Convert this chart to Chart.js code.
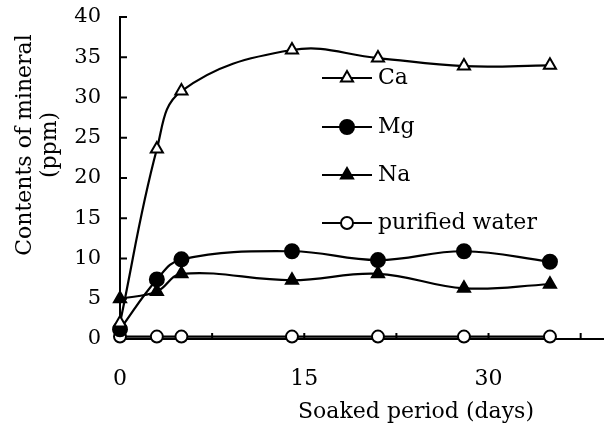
<!DOCTYPE html>
<html>
<head>
<meta charset="utf-8">
<script src="https://cdn.jsdelivr.net/npm/chart.js@4/dist/chart.umd.min.js"></script>
<style>
html,body{margin:0;padding:0;background:#fff;}
#wrap{width:604px;height:436px;position:relative;}
</style>
</head>
<body>
<div id="wrap"><canvas id="c" width="604" height="436"></canvas></div>
<script>
const days = [0, 3, 5, 14, 21, 28, 35];
const ca = [2.0, 23.6, 30.8, 35.9, 34.9, 33.9, 34.0];
const mg = [1.2, 7.4, 9.9, 10.9, 9.8, 10.9, 9.6];
const na = [5.0, 5.9, 8.1, 7.3, 8.1, 6.3, 6.8];
const water = [0.3, 0.3, 0.3, 0.3, 0.3, 0.3, 0.3];
const seriesNames = ['Ca', 'Mg', 'Na', 'purified water'];
const xTickValues = [0, 7.5, 15, 22.5, 30, 37.5];
const xLabelValues = [0, 15, 30];
const xTitle = 'Soaked period (days)';
const yTitle = ['Contents of mineral', '(ppm)'];

const FONT = '"DejaVu Serif", "Liberation Serif", serif';
const pts = arr => days.map((d, i) => ({x: d, y: arr[i]}));

function ds(label, data, style, fill, radius) {
  return {
    label, data: pts(data),
    borderColor: '#000', borderWidth: 2.2,
    pointStyle: style, pointRadius: radius, pointHoverRadius: radius,
    pointBackgroundColor: fill, pointBorderColor: '#000', pointBorderWidth: 2,
    tension: 0.4, clip: false, fill: false
  };
}

const datasets = [
  ds(seriesNames[0], ca, 'triangle', '#fff', 7),
  ds(seriesNames[1], mg, 'circle', '#000', 7),
  ds(seriesNames[2], na, 'triangle', '#000', 7),
  ds(seriesNames[3], water, 'circle', '#fff', 6)
];

const custom = {
  id: 'custom',
  afterDraw(chart) {
    const ctx = chart.ctx, x = chart.scales.x, y = chart.scales.y;
    ctx.save();
    ctx.strokeStyle = '#000'; ctx.lineWidth = 2;
    x.ticks.forEach(t => {
      const px = x.getPixelForValue(t.value);
      if (t.value === 0) return;
      ctx.beginPath(); ctx.moveTo(px, y.bottom); ctx.lineTo(px, y.bottom - 6); ctx.stroke();
    });
    y.ticks.forEach(t => {
      const py = y.getPixelForValue(t.value);
      if (t.value === 0) return;
      ctx.beginPath(); ctx.moveTo(x.left, py); ctx.lineTo(x.left + 7, py); ctx.stroke();
    });
    ctx.fillStyle = '#000';
    ctx.font = '22px ' + FONT;
    ctx.textAlign = 'center'; ctx.textBaseline = 'middle';
    ctx.fillText(xTitle, 416, 412);
    ctx.save();
    ctx.translate(25, 145); ctx.rotate(-Math.PI / 2);
    ctx.fillText(yTitle[0], 0, 0);
    ctx.restore();
    ctx.save();
    ctx.translate(50, 145); ctx.rotate(-Math.PI / 2);
    ctx.fillText(yTitle[1], 0, 0);
    ctx.restore();
    const ly = [78, 127, 175, 223];
    chart.data.datasets.forEach((d, i) => {
      const yy = ly[i];
      ctx.beginPath(); ctx.moveTo(322, yy); ctx.lineTo(372, yy);
      ctx.lineWidth = 2.2; ctx.strokeStyle = '#000'; ctx.stroke();
      ctx.fillStyle = d.pointBackgroundColor; ctx.strokeStyle = '#000'; ctx.lineWidth = 2;
      Chart.helpers.drawPoint(ctx, {pointStyle: d.pointStyle, radius: d.pointRadius, borderWidth: 2, rotation: 0}, 347, yy);
      ctx.fillStyle = '#000';
      ctx.textAlign = 'left';
      ctx.fillText(d.label, 378, yy);
    });
    ctx.restore();
  }
};

function zeroPad(s) { s.paddingTop = 0; s.paddingBottom = 0; s.paddingLeft = 0; s.paddingRight = 0; }

new Chart(document.getElementById('c'), {
  type: 'line',
  data: { datasets },
  plugins: [custom],
  options: {
    responsive: false, animation: false,
    layout: { autoPadding: false, padding: { top: 17, right: 0, left: 0, bottom: 0 } },
    plugins: { legend: { display: false }, tooltip: { enabled: false } },
    scales: {
      x: {
        type: 'linear', min: 0, max: 39.4,
        afterBuildTicks: s => { s.ticks = xTickValues.map(v => ({value: v})); },
        afterFit: s => { s.height = 97; zeroPad(s); },
        grid: { display: false, drawTicks: false },
        border: { display: true, color: '#000', width: 2 },
        ticks: {
          autoSkip: false, maxRotation: 0, padding: 27, color: '#000',
          font: { family: FONT, size: 22 },
          callback: v => xLabelValues.includes(v) ? String(v) : ''
        }
      },
      y: {
        min: 0, max: 40,
        afterFit: s => { s.width = 120; zeroPad(s); },
        grid: { display: false, drawTicks: false },
        border: { display: true, color: '#000', width: 2 },
        ticks: { stepSize: 5, padding: 19, color: '#000', font: { family: FONT, size: 21 } }
      }
    }
  }
});
</script>
</body>
</html>
